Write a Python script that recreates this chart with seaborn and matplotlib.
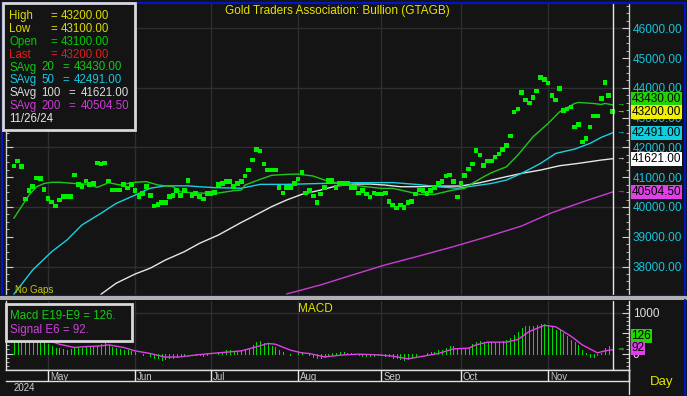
import numpy as np
import pandas as pd
import matplotlib.pyplot as plt
import seaborn as sns
from matplotlib.patches import Rectangle
from matplotlib.lines import Line2D
from matplotlib.ticker import MultipleLocator

# Daily bars, weekdays only (the chart plots "No Gaps")
dates = pd.bdate_range('2024-04-18', '2024-11-26')

close = [41380, 41540, 41350, 40270, 40550, 40680, 40980, 40950, 40580, 40280,
         40170, 40040, 40240, 40350, 40350, 40350, 41080, 40750, 40680, 40870,
         40750, 40780, 41480, 41450, 41480, 40870, 40570, 40570, 40570, 40750,
         40640, 40760, 40550, 40350, 40450, 40680, 40380, 40040, 40080, 40150,
         40150, 40350, 40380, 40550, 40380, 40550, 40880, 40380, 40450, 40350,
         40270, 40450, 40450, 40480, 40760, 40780, 40850, 40850, 40680, 40780,
         40850, 41040, 41240, 41580, 41940, 41880, 41450, 41240, 41240, 41240,
         40650, 40470, 40650, 40650, 40780, 40940, 41150, 40470, 40550, 40370,
         40150, 40440, 40660, 40890, 40890, 40660, 40780, 40780, 40780, 40660,
         40660, 40470, 40550, 40440, 40340, 40470, 40440, 40440, 40470, 40180,
         40070, 39960, 40070, 39980, 40150, 40180, 40440, 40570, 40550, 40460,
         40550, 40660, 40780, 40850, 41040, 41070, 40850, 40340, 40790, 41050,
         41270, 41440, 41890, 41750, 41390, 41540, 41540, 41680, 41780, 41940,
         42060, 42380, 43190, 43290, 43850, 43590, 43490, 43680, 43890, 44350,
         44280, 44160, 43750, 43590, 43980, 43250, 43290, 43360, 42680, 42780,
         42180, 42290, 42680, 43050, 43050, 43640, 44180, 43750, 43200]

# Moving averages (bar number, value)
savg20_day = [0, 2, 4, 6, 8, 10, 12, 16, 19, 22, 25, 28, 32, 35, 38, 42, 44, 47,
              51, 54, 58, 60, 61, 65, 68, 72, 75, 79, 82, 86, 90, 93, 97, 100,
              104, 107, 111, 114, 116, 119, 121, 124, 126, 130, 133, 137, 141,
              144, 148, 149, 153, 155, 156, 158]
savg20_val = [39620, 40010, 40400, 40680, 40790, 40830, 40830, 40790, 40770,
              40660, 40815, 40740, 40830, 40850, 40740, 40680, 40510, 40480,
              40460, 40470, 40547, 40570, 40737, 40928, 41063, 41096, 41106,
              41039, 40905, 40794, 40727, 40681, 40626, 40626, 40513, 40425,
              40425, 40513, 40570, 40626, 40794, 41016, 41150, 41351, 41743,
              42357, 42806, 43195, 43476, 43510, 43476, 43443, 43476, 43430]

savg50_day = [0, 5, 10, 14, 18, 23, 27, 32, 36, 40, 46, 49, 53, 60, 65, 72, 81,
              90, 100, 107, 112, 117, 121, 126, 130, 134, 139, 143, 148, 152,
              155, 158]
savg50_val = [37070, 37890, 38500, 38890, 39400, 39790, 40120, 40400, 40630,
              40710, 40710, 40680, 40650, 40630, 40760, 40760, 40790, 40815,
              40820, 40750, 40680, 40630, 40700, 40790, 40905, 41130, 41465,
              41800, 41944, 42135, 42337, 42491]

savg100_day = [23, 27, 32, 36, 40, 45, 49, 54, 60, 63, 68, 72, 76, 81, 85, 90,
               94, 98, 102, 107, 112, 118, 123, 128, 134, 139, 144, 149, 155, 158]
savg100_val = [37070, 37440, 37750, 37945, 38220, 38500, 38780, 39060, 39480,
               39675, 40010, 40235, 40425, 40570, 40704, 40771, 40771, 40737,
               40681, 40681, 40700, 40704, 40815, 40962, 41130, 41240, 41385,
               41465, 41576, 41621]

savg200_day = [72, 81, 90, 98, 107, 116, 125, 134, 142, 151, 158]
savg200_val = [37080, 37385, 37744, 38056, 38357, 38669, 39004, 39363, 39809,
               40211, 40504.5]

# MACD E19-E9, one value per bar
macd = [620, 600, 560, 520, 480, 430, 380, 330, 290, 245,
        188, 147, 130, 106, 82, 106, 163, 147, 147, 163,
        163, 163, 188, 245, 261, 212, 163, 130, 106, 90,
        82, 65, 25, 0, -33, -16, -49, -98, -114, -147,
        -130, -114, -98, -82, -65, -33, 0, -16, -33, -33,
        -49, -33, -16, -16, 25, 49, 82, 82, 49, 65,
        82, 114, 147, 212, 278, 310, 261, 229, 196, 163,
        98, 33, 0, -33, -16, 16, 33, 0, -33, -75,
        -110, -122, -82, -49, 16, 16, 33, 33, 16, 16,
        -16, -33, -49, -49, -65, -49, -33, -33, -49, -65,
        -98, -122, -130, -147, -130, -98, -65, -16, 0, 16,
        33, 49, 82, 98, 147, 180, 180, 131, 114, 131,
        163, 229, 278, 310, 294, 278, 278, 278, 278, 310,
        327, 376, 458, 539, 637, 670, 670, 670, 702, 719,
        735, 702, 654, 588, 572, 507, 441, 343, 278, 212,
        82, 16, -82, -82, -33, 16, 131, 196, 126]

# Signal E6 (bar number, value)
signal_day = [0, 4, 8, 10, 12, 16, 18, 23, 25, 29, 32, 36, 40, 44, 49, 54, 60,
              64, 67, 69, 73, 76, 78, 82, 87, 91, 96, 100, 104, 107, 112, 116,
              120, 122, 125, 130, 133, 136, 140, 143, 147, 150, 154, 156, 158]
signal_val = [680, 560, 380, 290, 229, 147, 163, 188, 212, 147, 65, 0, -90,
              -82, -25, 16, 65, 163, 245, 229, 82, 16, 0, -82, -33, -16, -33,
              -65, -130, -82, 0, 114, 131, 212, 278, 278, 343, 539, 690, 654,
              425, 212, 16, 65, 92]

month_names = ['May', 'Jun', 'Jul', 'Aug', 'Sep', 'Oct', 'Nov']
price_levels = [38000, 39000, 40000, 41000, 42000, 43000, 44000, 45000, 46000]

info_rows = [
    (['High', '=', '43200.00'], [9, 50, 61], '#dcdc00'),
    (['Low', '=', '43100.00'], [9, 50, 61], '#dcdc00'),
    (['Open', '=', '43100.00'], [9, 50, 61], '#00cc00'),
    (['Last', '=', '43200.00'], [9, 50, 61], '#e01c1c'),
    (['SAvg', '20', '=', '43430.00'], [9, 41, 62, 74], '#14c814'),
    (['SAvg', '50', '=', '42491.00'], [9, 41, 62, 74], '#14c8dc'),
    (['SAvg', '100', '=', '41621.00'], [9, 41, 68, 81], '#dcdcdc'),
    (['SAvg', '200', '=', '40504.50'], [9, 41, 68, 81], '#c83cd4'),
    (['11/26/24'], [9], '#e8e8e8'),
]

# value, colour, tag shift (px) for the right hand price tags
price_tags = [(43430, '#22d400', 5.5), (43200, '#f0f000', 0),
              (42491, '#10d0e0', 0), (41621, '#ffffff', 0),
              (40504.5, '#e040e8', 0)]
macd_tags = [(126, '#22d400', 12), (92, '#e040e8', 1.5)]

BG = '#141414'
GRID = '#2e2e2e'
W, H = 687, 396

sns.set_style('dark', {'axes.facecolor': BG, 'figure.facecolor': BG})
plt.rcParams['font.family'] = ['Liberation Sans', 'DejaVu Sans']


def fbox(l, t, r, b):
    return [l / W, 1 - b / H, (r - l) / W, (b - t) / H]


idx = np.arange(len(dates))
month_pos = [int(np.argmax(dates.month == m)) for m in range(5, 12)]
last = idx[-1]

fig = plt.figure(figsize=(W / 100, H / 100), dpi=100)
fig.patch.set_facecolor(BG)

ax = fig.add_axes(fbox(5.5, 3.5, 628.5, 295))
axm = fig.add_axes(fbox(5.5, 300.5, 628.5, 370))
axd = fig.add_axes(fbox(5.5, 370, 628.5, 381))

for a in (ax, axm, axd):
    a.set_facecolor(BG)
    a.grid(False)
    a.set_xlim(-2.2, 162.2)
    a.set_xlabel('')
    a.set_ylabel('')

# ---- price panel
for v in range(38000, 46001, 2000):
    ax.axhline(v, color=GRID, lw=1, zorder=0)
for p in month_pos:
    ax.axvline(p, color=GRID, lw=1, zorder=0)
    axm.axvline(p, color=GRID, lw=1, zorder=0)
axm.axhline(1000, color=GRID, lw=1, zorder=0)

sns.lineplot(x=savg200_day, y=savg200_val, color='#c83cd4', lw=1, ax=ax,
             estimator=None, sort=False, legend=False)
sns.lineplot(x=savg100_day, y=savg100_val, color='#e6e6e6', lw=1, ax=ax,
             estimator=None, sort=False, legend=False)
sns.lineplot(x=savg50_day, y=savg50_val, color='#18d0e4', lw=1, ax=ax,
             estimator=None, sort=False, legend=False)
sns.lineplot(x=savg20_day, y=savg20_val, color='#1cc81c', lw=1, ax=ax,
             estimator=None, sort=False, legend=False)
sns.scatterplot(x=idx, y=close, marker='s', s=11, color='#00f000',
                edgecolor='none', linewidth=0, ax=ax, legend=False, zorder=5)

ax.axvline(last, color='#e8e8e8', lw=1, zorder=6)
ax.set_ylim(37045, 46833)
ax.set_xticks([])
ax.set_yticks(price_levels)
ax.set_yticklabels([f'{v:.2f}' for v in price_levels])
ax.yaxis.set_minor_locator(MultipleLocator(250))
ax.tick_params(axis='y', which='both', left=True, right=True, labelleft=False,
               labelright=True, direction='in', color='#d0d0d0',
               labelcolor='#18c4dc', labelsize=8.5, pad=3)
ax.tick_params(axis='y', which='major', length=5)
ax.tick_params(axis='y', which='minor', length=2.5)
ax.tick_params(axis='x', bottom=False)
for s in ('top', 'bottom'):
    ax.spines[s].set_visible(False)
for s in ('left', 'right'):
    ax.spines[s].set_color('#d0d0d0')
    ax.spines[s].set_linewidth(1)

ytr = ax.get_yaxis_transform()
for v, c, dy in price_tags:
    ax.annotate(f'{v:.2f}', xy=(1, v), xycoords=ytr, xytext=(3, dy),
                textcoords='offset pixels', ha='left', va='center',
                fontsize=8.5, color='black', annotation_clip=False,
                bbox=dict(boxstyle='square,pad=0.08', fc=c, ec='none'),
                zorder=8)
    ax.text(0.9875, v, '→', transform=ytr, color=c, fontsize=6,
            ha='center', va='center', zorder=7)

fig.text(337 / W, 1 - 11 / H, 'Gold Traders Association: Bullion (GTAGB)',
         color='#e4e400', fontsize=8.5, ha='center', va='center')

# ---- MACD panel
axm.vlines(idx, 0, macd, color='#00dc00', lw=0.72, zorder=2, antialiased=False)
sns.lineplot(x=signal_day, y=signal_val, color='#e040e8', lw=1, ax=axm,
             estimator=None, sort=False, legend=False, zorder=3)
axm.axvline(last, color='#e8e8e8', lw=1, zorder=6)
axm.set_ylim(-404, 1299)
axm.set_xticks([])
axm.set_yticks([0, 500, 1000])
axm.set_yticklabels(['0', '500', '1000'])
axm.yaxis.set_minor_locator(MultipleLocator(100))
axm.tick_params(axis='y', which='both', left=True, right=True, labelleft=False,
                labelright=True, direction='in', color='#d0d0d0',
                labelcolor='#e0e0e0', labelsize=8.5, pad=3)
axm.tick_params(axis='y', which='major', length=5)
axm.tick_params(axis='y', which='minor', length=2.5)
axm.tick_params(axis='x', bottom=False)
axm.spines['top'].set_visible(False)
for s in ('left', 'right', 'bottom'):
    axm.spines[s].set_color('#e0e0e0')
    axm.spines[s].set_linewidth(1)

mtr = axm.get_yaxis_transform()
for v, c, dy in macd_tags:
    axm.annotate(f'{v}', xy=(1, v), xycoords=mtr, xytext=(3, dy),
                 textcoords='offset pixels', ha='left', va='center',
                 fontsize=8.5, color='black', annotation_clip=False,
                 bbox=dict(boxstyle='square,pad=0.08', fc=c, ec='none'),
                 zorder=8)
    axm.text(0.9875, v, '→', transform=mtr, color=c, fontsize=6,
             ha='center', va='center', zorder=7)

# ---- date strip
axd.set_ylim(0, 1)
axd.set_xticks([])
axd.set_yticks([])
for s in axd.spines.values():
    s.set_color('#e0e0e0')
    s.set_linewidth(1)
axd.spines['left'].set_visible(False)
axd.vlines(month_pos, 0, 1, color='#e8e8e8', lw=1)
for p, name in zip(month_pos, month_names):
    axd.text(p + 0.5, 0.35, name, color='#c8c8c8', fontsize=7,
             ha='left', va='center')

# ---- window decorations
fig.add_artist(Rectangle((1.5 / W, 1 - 295.5 / H), 683.5 / W, 293 / H,
                         transform=fig.transFigure, fill=False,
                         ec='#0014c8', lw=1.6, zorder=9))
fig.add_artist(Rectangle((0, 1 - 300 / H), 1, 4 / H, transform=fig.transFigure,
                         fc='#b0b0b0', ec='none', zorder=9))
fig.add_artist(Line2D([685 / W, 685 / W], [0, 1 - 300 / H], color='#0014c8',
                      lw=1.6, transform=fig.transFigure, zorder=9))
fig.add_artist(Line2D([628.5 / W, 628.5 / W], [1 - 370 / H, 1 - 394 / H],
                      color='#e0e0e0', lw=1, transform=fig.transFigure))

fig.text(15 / W, 1 - 290 / H, 'No Gaps', color='#c8c800', fontsize=7,
         ha='left', va='center')
fig.text(315 / W, 1 - 309 / H, 'MACD', color='#e4e400', fontsize=8.5,
         ha='center', va='center')
fig.text(14 / W, 1 - 388 / H, '2024', color='#d0d0d0', fontsize=7,
         ha='left', va='center')
fig.text(662 / W, 1 - 382 / H, 'Day', color='#e4e400', fontsize=9.5,
         ha='center', va='center')

# info box (top left)
fig.add_artist(Rectangle((3 / W, 1 - 129.5 / H), 131.5 / W, 126.5 / H,
                         transform=fig.transFigure, fc=BG, ec='#d8d8d8',
                         lw=2, zorder=10))
for k, (parts, xs, c) in enumerate(info_rows):
    y = 15.7 + k * 12.95
    for t, x in zip(parts, xs):
        fig.text(x / W, 1 - y / H, t, color=c, fontsize=8.3, ha='left',
                 va='center', zorder=11)

# MACD legend box
fig.add_artist(Rectangle((5.5 / W, 1 - 340.5 / H), 126 / W, 36.5 / H,
                         transform=fig.transFigure, fc=BG, ec='#d8d8d8',
                         lw=2, zorder=10))
fig.text(10 / W, 1 - 316 / H, 'Macd E19-E9 = 126.', color='#14cc14',
         fontsize=8.3, ha='left', va='center', zorder=11)
fig.text(10 / W, 1 - 329.5 / H, 'Signal E6 = 92.', color='#d040e0',
         fontsize=8.3, ha='left', va='center', zorder=11)

fig.savefig('out.png', dpi=100, facecolor=BG)
